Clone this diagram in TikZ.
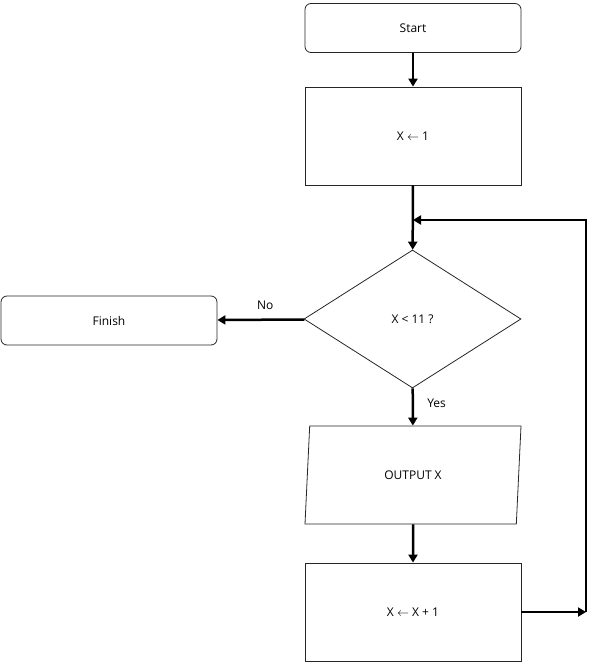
\documentclass[tikz,border=0pt]{standalone}
\usepackage{fontspec}
\setmainfont{Open Sans}
\usetikzlibrary{shapes.geometric,arrows.meta}
\begin{document}
\begin{tikzpicture}[x=1pt,y=-1pt,
  every node/.style={font=\fontsize{12}{14}\selectfont},
  box/.style={draw=black!85,line width=0.8pt,minimum width=216pt,minimum height=98pt,inner sep=0pt},
  term/.style={draw=black!85,line width=0.8pt,rounded corners=6pt,minimum width=216pt,minimum height=49pt,inner sep=0pt},
  dec/.style={draw=black!85,line width=0.8pt,diamond,aspect=1.57,minimum width=217pt,minimum height=138pt,inner sep=0pt},
  io/.style={draw=black!85,line width=0.8pt,trapezium,trapezium left angle=62,trapezium right angle=118,minimum width=216pt,minimum height=98pt,inner sep=0pt,trapezium stretches body},
  arr/.style={line width=2.5pt,-{Triangle[length=8pt,width=9pt]}},
  ln/.style={line width=2.5pt}]
\useasboundingbox (0,0) rectangle (600,663);
\node[term] (start) at (413,28) {Start};
\node[box] (init) at (413,136) {X $\leftarrow$ 1};
\node[dec] (cond) at (412.5,319) {X < 11 ?};
\node[term] (fin) at (109,320.5) {Finish};
\node[io] (out) at (413,475) {OUTPUT X};
\node[box] (inc) at (413,612) {X $\leftarrow$ X + 1};
\coordinate (r) at (586,612);
\coordinate (rt) at (586,220);
\coordinate (j) at (413,220);
\draw[arr] (start) -- (init);
\draw[arr] (init) -- (cond);
\draw[arr] (cond) -- (fin) node[pos=0.45,above=6pt] {No};
\draw[arr] (cond) -- (out) node[pos=0.4,right=10pt] {Yes};
\draw[arr] (out) -- (inc);
\draw[arr] (inc) -- (r);
\draw[arr] (r) -- (rt) -- (j);
\end{tikzpicture}
\end{document}
